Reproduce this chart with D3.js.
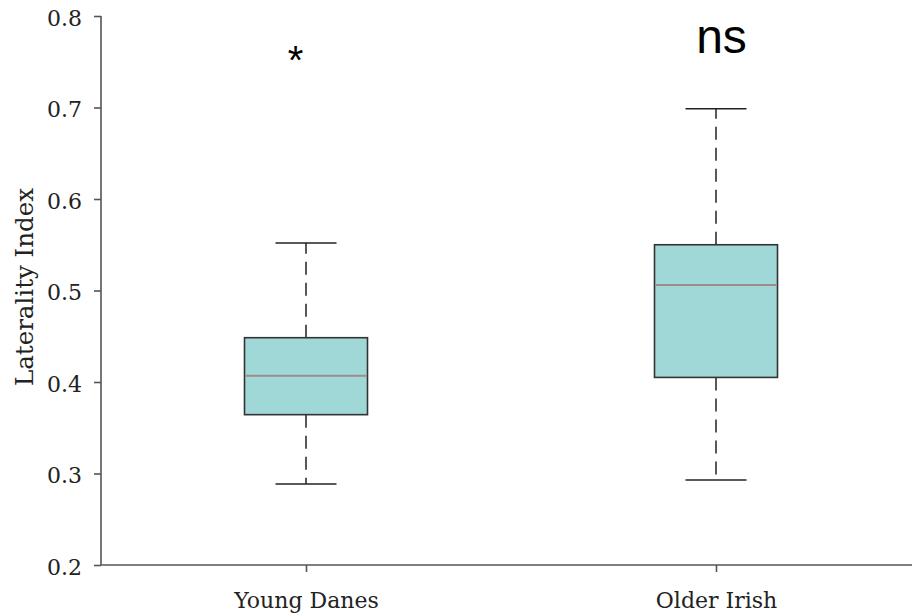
<!DOCTYPE html>
<html><head><meta charset="utf-8">
<script src="https://cdn.jsdelivr.net/npm/d3@7"></script>
<style>body{margin:0;background:#fff}svg{display:block}</style>
</head><body>
<script>
const categories = ["Young Danes", "Older Irish"];
const whiskerLow = [0.2885, 0.293];
const q1 = [0.3643, 0.405];
const median = [0.4069, 0.506];
const q3 = [0.4484, 0.550];
const whiskerHigh = [0.552, 0.6987];
const significance = ["*", "ns"];
const yTicks = [0.2, 0.3, 0.4, 0.5, 0.6, 0.7, 0.8];

const W = 912, H = 616;
const svg = d3.select("body").append("svg").attr("width", W).attr("height", H);
const x = d3.scaleLinear().domain([0.5, 2.5]).range([101, 921]);
const y = d3.scaleLinear().domain([0.2, 0.8]).range([565, 16]);
const serif = "'DejaVu Serif', serif";

// axes
const yAxis = svg.append("g").attr("transform", "translate(101,0)")
  .call(d3.axisLeft(y).tickValues(yTicks).tickFormat(d3.format(".1f")).tickSize(7).tickPadding(12));
const xAxis = svg.append("g").attr("transform", "translate(0,565)")
  .call(d3.axisBottom(x).tickValues([1, 2]).tickFormat((d, i) => categories[i]).tickSize(7).tickPadding(20));
[yAxis, xAxis].forEach(g => {
  g.selectAll("path,line").attr("stroke", "#555").attr("stroke-width", 1.6);
  g.selectAll("text").attr("fill", "#222").style("font-family", serif).style("font-size", "22px");
});
yAxis.selectAll("text").attr("dy", "0.42em");
xAxis.select("path.domain").attr("d", "M101,0H912");
yAxis.select("path.domain").attr("d", "M0,16V565");

svg.append("text").attr("transform", "translate(33,287) rotate(-90)")
  .attr("text-anchor", "middle").style("font-family", serif).style("font-size", "24.5px")
  .attr("fill", "#222").text("Laterality Index");

const boxW = 123, capW = 61;
categories.forEach((c, i) => {
  const cx = x(i + 1);
  const g = svg.append("g");
  g.append("line").attr("x1", cx).attr("x2", cx).attr("y1", y(q3[i])).attr("y2", y(whiskerHigh[i]))
    .attr("stroke", "#222").attr("stroke-width", 1.5).attr("stroke-dasharray", "13,8");
  g.append("line").attr("x1", cx).attr("x2", cx).attr("y1", y(q1[i])).attr("y2", y(whiskerLow[i]))
    .attr("stroke", "#222").attr("stroke-width", 1.5).attr("stroke-dasharray", "13,8");
  [whiskerHigh[i], whiskerLow[i]].forEach(v => {
    g.append("line").attr("x1", cx - capW / 2).attr("x2", cx + capW / 2).attr("y1", y(v)).attr("y2", y(v))
      .attr("stroke", "#222").attr("stroke-width", 1.5);
  });
  g.append("rect").attr("x", cx - boxW / 2).attr("width", boxW)
    .attr("y", y(q3[i])).attr("height", y(q1[i]) - y(q3[i]))
    .attr("fill", "#a0d8d8").attr("stroke", "#333").attr("stroke-width", 1.6);
  g.append("line").attr("x1", cx - boxW / 2 + 1).attr("x2", cx + boxW / 2 - 1)
    .attr("y1", y(median[i])).attr("y2", y(median[i])).attr("stroke", "#a08a8a").attr("stroke-width", 2);
});

svg.append("text").attr("x", x(1) - 10.5).attr("y", 74).attr("text-anchor", "middle")
  .style("font-family", "'Liberation Sans', Arial, sans-serif").style("font-size", "40px").attr("fill", "#000").text(significance[0]);
svg.append("text").attr("x", x(2) + 5.5).attr("y", 53).attr("text-anchor", "middle")
  .style("font-family", "'Liberation Sans', Arial, sans-serif").style("font-size", "48px").attr("fill", "#000").text(significance[1]);
</script>
</body></html>
